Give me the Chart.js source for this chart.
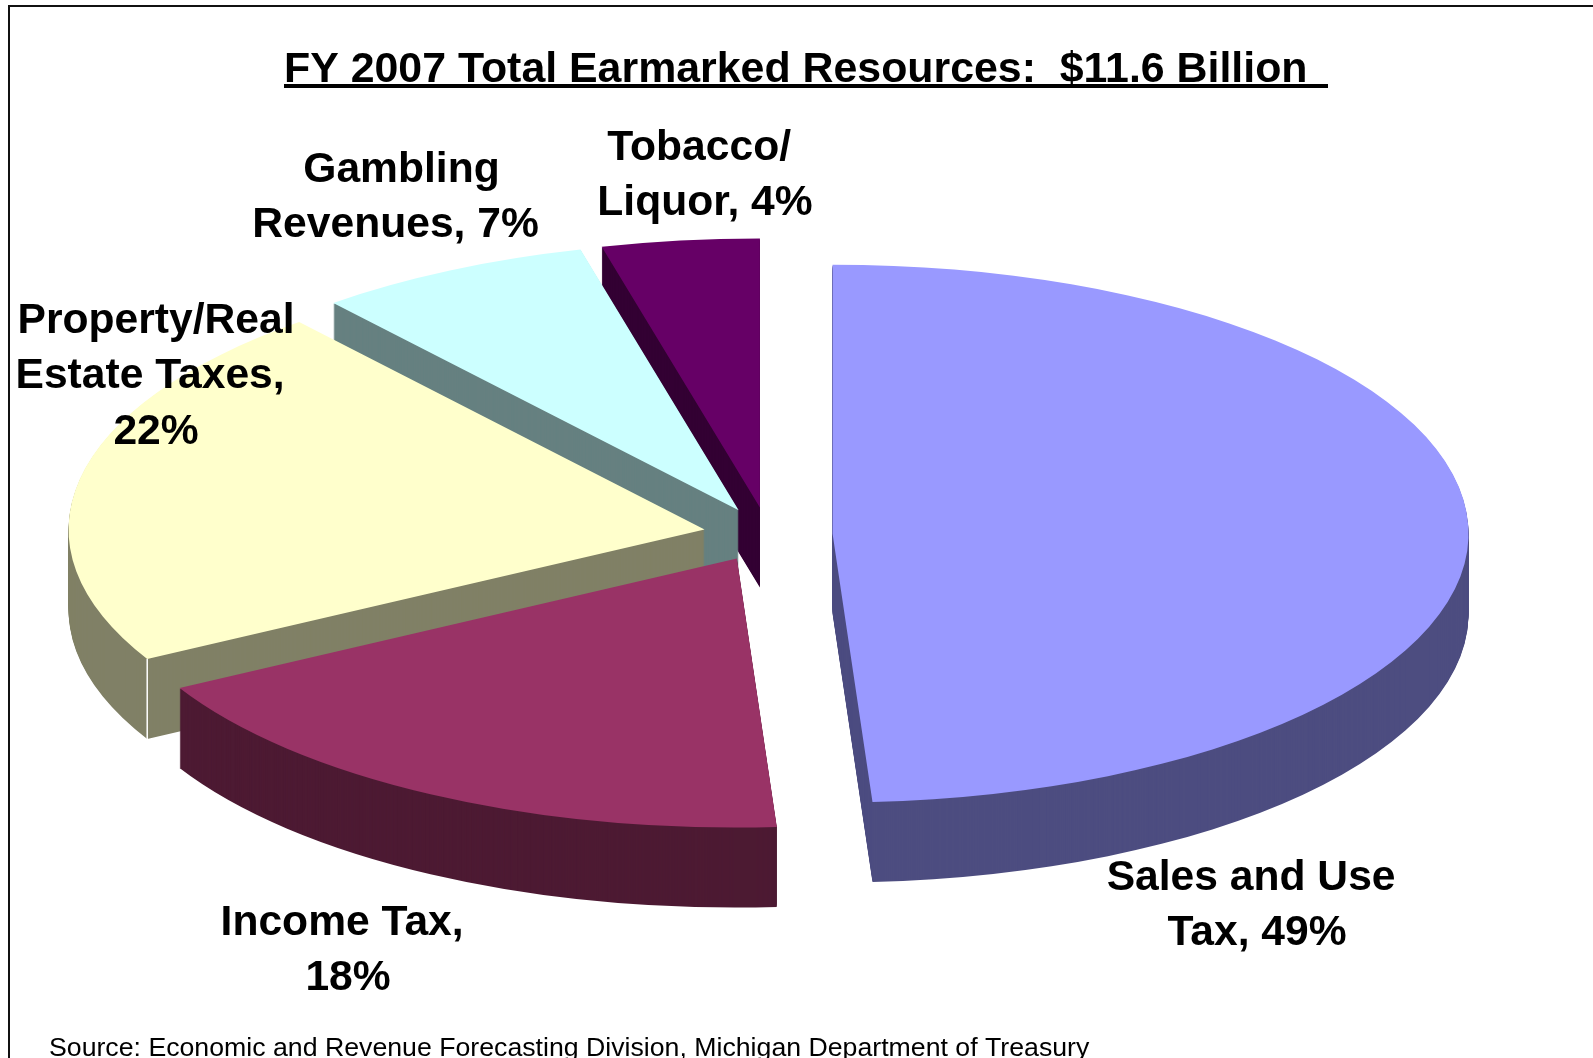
<!DOCTYPE html>
<html>
<head>
<meta charset="utf-8">
<style>html,body{margin:0;padding:0;background:#fff;overflow:hidden}canvas{display:block}</style>
<script src="https://cdn.jsdelivr.net/npm/chart.js@4"></script>
</head>
<body>
<canvas id="c" width="1593" height="1058"></canvas>
<script>
const categories = ['Sales and Use Tax', 'Income Tax', 'Property/Real Estate Taxes', 'Gambling Revenues', 'Tobacco/Liquor'];
const shares = [49, 18, 22, 7, 4];
const faceColors = ['#9999ff', '#993366', '#ffffcc', '#ccffff', '#660066'];
const wallColors = ['#4d4d80', '#4d1a33', '#808066', '#668080', '#330033'];
const titleText = 'FY 2007 Total Earmarked Resources:  $11.6 Billion  ';
const sourceText = 'Source: Economic and Revenue Forecasting Division, Michigan Department of Treasury';
const labelLines = [
  ['Sales and Use ', 'Tax, 49%'],
  ['Income Tax, ', '18%'],
  ['Property/Real', 'Estate Taxes, ', '22%'],
  ['Gambling', 'Revenues, 7% '],
  ['Tobacco/ ', 'Liquor, 4%']
];

// layout of the tilted pie
const view = { cx: 768, cy: 534.5, rx: 636, ry: 269, depth: 80, explode: 64.6 };
const drawOrder = [4, 3, 2, 1, 0];
const labelAnchors = [[1257, 890], [348, 935], [156, 333], [401.5, 182], [705, 160]];
const FONT = '"Liberation Sans", Arial, sans-serif';

const tiltedPie = {
  id: 'tiltedPie',
  beforeDraw(chart) {
    const c = chart.ctx;
    c.save();
    c.fillStyle = '#fff';
    c.fillRect(0, 0, chart.width, chart.height);
    c.fillStyle = '#111';
    c.fillRect(8, 5, chart.width - 8, 2);
    c.fillRect(8, 5, 2, chart.height - 5);
    c.restore();
  },
  beforeDatasetDraw(chart, args) {
    const c = chart.ctx;
    const arcs = args.meta.data;
    // squash the library's arc into an ellipse and pull it out along its mid-angle
    const place = (arc, dy) => {
      const mid = (arc.startAngle + arc.endAngle) / 2;
      c.translate(view.cx, view.cy + dy);
      c.scale(1, view.ry / view.rx);
      c.translate(Math.cos(mid) * view.explode - arc.x, Math.sin(mid) * view.explode - arc.y);
    };
    drawOrder.forEach(i => {
      const arc = arcs[i];
      const shared = arc.options;
      const dark = Object.create(shared);
      dark.backgroundColor = wallColors[i];
      dark.borderColor = wallColors[i];
      arc.options = dark;
      for (let d = view.depth; d >= 1; d--) {
        c.save();
        place(arc, d);
        arc.draw(c);
        c.restore();
      }
      arc.options = shared;
      if (i === 2) {
        // pale seam where the curved wall of this slice meets its flat wall
        const mid = (arc.startAngle + arc.endAngle) / 2;
        const px = view.cx + Math.cos(mid) * view.explode + Math.cos(arc.startAngle) * view.rx;
        const py = view.cy + (Math.sin(mid) * view.explode + Math.sin(arc.startAngle) * view.rx) * view.ry / view.rx;
        c.save();
        c.strokeStyle = '#fff';
        c.lineWidth = 1.5;
        c.beginPath();
        c.moveTo(px, py);
        c.lineTo(px, py + view.depth);
        c.stroke();
        c.restore();
      }
      c.save();
      place(arc, 0);
      arc.draw(c);
      c.restore();
    });
    return false;
  },
  afterDraw(chart) {
    const c = chart.ctx;
    c.save();
    c.fillStyle = '#000';
    c.textBaseline = 'alphabetic';
    c.textAlign = 'left';
    c.font = 'bold 42.87px ' + FONT;
    c.fillText(titleText, 284, 82);
    c.fillRect(284, 84, 1044, 4);
    c.textAlign = 'center';
    c.font = 'bold 42.6px ' + FONT;
    labelLines.forEach((lines, i) => {
      lines.forEach((t, j) => {
        c.fillText(t, labelAnchors[i][0], labelAnchors[i][1] + j * 55.3);
      });
    });
    c.textAlign = 'left';
    c.font = '26.7px ' + FONT;
    c.fillText(sourceText, 49, 1056);
    c.restore();
  }
};

new Chart(document.getElementById('c'), {
  type: 'pie',
  data: {
    labels: categories,
    datasets: [{
      data: shares,
      backgroundColor: faceColors,
      borderWidth: 0,
      radius: view.rx,
      clip: false
    }]
  },
  options: {
    responsive: false,
    animation: false,
    events: [],
    layout: { padding: 0 },
    plugins: { legend: { display: false }, title: { display: false }, tooltip: { enabled: false } }
  },
  plugins: [tiltedPie]
});
</script>
</body>
</html>
